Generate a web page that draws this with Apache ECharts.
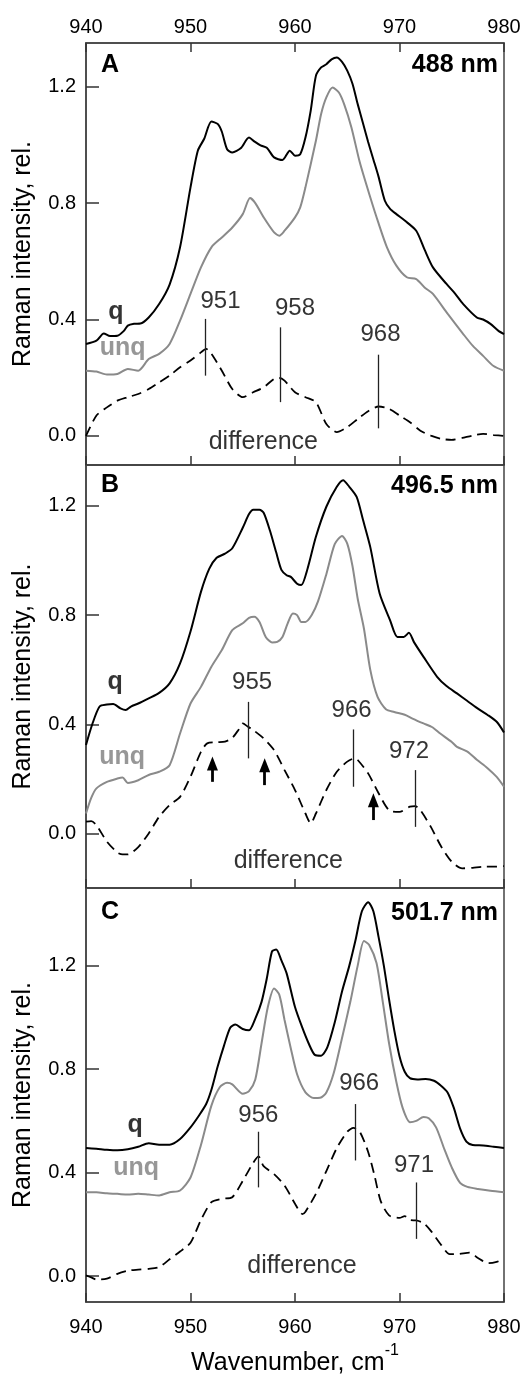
<!DOCTYPE html>
<html>
<head>
<meta charset="utf-8">
<script src="https://cdn.jsdelivr.net/npm/echarts@6/dist/echarts.min.js"></script>
<style>
  html, body { margin: 0; padding: 0; background: #fff; }
  #chart { width: 528px; height: 1377px; }
</style>
</head>
<body>
<div id="chart"></div>
<script>
// Raman spectra (q, unq) and their difference at three excitation wavelengths.
const FONT = "'Liberation Sans', Arial, sans-serif";

const xTicks = [940, 950, 960, 970, 980];
const yTicks = [0, 0.4, 0.8, 1.2];
const panelNames = ['A', 'B', 'C'];
const wavelengths = ['488 nm', '496.5 nm', '501.7 nm'];

// ---- Panel A (488 nm) ----
const qA = [[940,0.316],[941,0.327],[941.7,0.352],[942.3,0.343],[943,0.344],[943.6,0.36],[944,0.379],[944.6,0.385],[945.2,0.386],[946,0.407],[947,0.453],[948,0.52],[949,0.648],[950,0.854],[950.7,0.98],[951.3,1.02],[952,1.08],[952.6,1.072],[953,1.045],[953.5,0.985],[954,0.974],[954.8,0.988],[955.6,1.025],[956.1,1.012],[956.7,0.998],[957.3,0.99],[958,0.957],[958.8,0.948],[959.5,0.98],[960,0.963],[960.5,0.968],[961,1.025],[961.5,1.117],[962,1.237],[962.5,1.266],[963,1.277],[963.5,1.294],[964,1.3],[964.5,1.285],[965,1.255],[965.5,1.21],[966,1.14],[966.5,1.075],[967,1.01],[967.5,0.95],[968,0.89],[968.6,0.808],[969.1,0.78],[969.7,0.762],[970.5,0.74],[971.6,0.705],[972.4,0.64],[973.2,0.579],[974.5,0.522],[975.3,0.49],[976.1,0.453],[977.4,0.407],[978,0.4],[978.7,0.385],[979.5,0.36],[980,0.35]];
const unqA = [[940,0.224],[941,0.221],[942,0.211],[943,0.213],[944,0.23],[945,0.224],[946,0.264],[947,0.282],[948,0.316],[949,0.396],[950,0.488],[951,0.579],[952,0.648],[953,0.682],[954,0.716],[955,0.762],[955.7,0.817],[956.2,0.8],[957,0.751],[958,0.699],[958.5,0.688],[959,0.705],[960,0.751],[960.5,0.785],[961,0.854],[962,1.014],[962.5,1.106],[963,1.163],[963.6,1.197],[964.2,1.18],[964.7,1.14],[965.4,1.06],[966.2,0.94],[967.2,0.82],[968,0.73],[968.8,0.648],[969.7,0.585],[970.7,0.545],[971.6,0.539],[972.4,0.51],[973.2,0.488],[974.6,0.42],[976.1,0.35],[977,0.31],[978,0.275],[979,0.24],[980,0.224]];
const diffA = [[940,0.0],[941,0.07],[942,0.098],[943,0.121],[944,0.133],[945,0.144],[946,0.161],[947,0.184],[948,0.207],[949,0.236],[950,0.259],[951,0.287],[951.5,0.299],[952,0.282],[953,0.224],[954,0.161],[955,0.133],[956,0.15],[957,0.167],[958,0.196],[958.5,0.199],[959,0.19],[960,0.15],[961,0.133],[962,0.116],[963,0.041],[964,0.013],[965,0.03],[966,0.058],[967,0.085],[968,0.101],[969,0.093],[970,0.07],[971,0.047],[972,0.018],[973,0.001],[974,-0.01],[975,-0.014],[976,-0.007],[977,0.001],[978,0.007],[979,0.003],[980,0.0]];

// ---- Panel B (496.5 nm) ----
const qB = [[940,0.324],[940.6,0.4],[941.3,0.465],[942,0.472],[942.6,0.474],[943.3,0.458],[943.8,0.452],[944.3,0.465],[945,0.476],[946,0.495],[947,0.515],[948,0.55],[949,0.623],[950,0.74],[951,0.885],[951.8,0.97],[952.5,1.01],[953.3,1.025],[954,1.045],[955,1.12],[955.6,1.17],[956,1.186],[956.6,1.186],[957,1.175],[957.6,1.11],[958.2,1.03],[958.7,0.966],[959.2,0.946],[959.6,0.94],[960.2,0.915],[960.6,0.91],[961.2,0.97],[962,1.087],[963,1.197],[964,1.27],[964.6,1.294],[965.2,1.27],[965.9,1.233],[966.5,1.15],[967.2,1.05],[968.1,0.879],[969.1,0.781],[969.8,0.72],[970.4,0.72],[970.9,0.735],[971.4,0.7],[972.3,0.647],[973.6,0.574],[974.5,0.54],[975.5,0.513],[976.5,0.485],[977.4,0.46],[978.4,0.435],[979.3,0.409],[980,0.37]];
const unqB = [[940,0.073],[940.5,0.13],[941,0.165],[942,0.189],[943,0.201],[943.5,0.205],[944,0.185],[945,0.195],[946,0.214],[947,0.226],[948,0.25],[949,0.366],[950,0.476],[951,0.537],[952,0.611],[953,0.672],[954,0.745],[955,0.77],[955.6,0.79],[956.1,0.794],[956.6,0.775],[957.2,0.72],[957.8,0.7],[958.3,0.702],[958.8,0.72],[959.3,0.77],[959.8,0.806],[960.2,0.8],[960.6,0.775],[961,0.775],[961.6,0.8],[962.2,0.85],[963,0.95],[963.8,1.06],[964.5,1.09],[965,1.062],[965.5,0.98],[966,0.86],[966.6,0.75],[967.2,0.6],[967.9,0.5],[968.7,0.455],[969.5,0.445],[970.5,0.435],[971.3,0.42],[972.3,0.403],[973.1,0.39],[973.9,0.366],[975,0.335],[975.5,0.317],[976.5,0.3],[977.4,0.27],[978.4,0.24],[979.3,0.207],[980,0.171]];
const diffB = [[940,0.043],[940.5,0.045],[941,0.03],[942,-0.03],[943,-0.07],[943.5,-0.077],[944,-0.077],[945,-0.05],[946,0.0],[947,0.061],[948,0.104],[949,0.134],[950,0.208],[951,0.299],[951.6,0.33],[952.5,0.334],[953.3,0.336],[954,0.35],[954.6,0.38],[955,0.403],[955.5,0.391],[956,0.379],[957,0.348],[958,0.305],[959,0.232],[960,0.159],[961,0.073],[961.5,0.037],[962,0.073],[963,0.159],[964,0.226],[965,0.263],[965.7,0.275],[966,0.269],[967,0.22],[968,0.147],[969,0.085],[970,0.079],[971,0.098],[971.5,0.1],[972,0.085],[973,0.024],[974,-0.049],[975,-0.104],[976,-0.128],[977,-0.126],[978,-0.122],[979,-0.122],[980,-0.12]];

// ---- Panel C (501.7 nm) ----
const qC = [[940,0.495],[941,0.492],[942,0.488],[943,0.486],[944,0.49],[945,0.5],[946,0.514],[947,0.508],[948,0.508],[949,0.53],[950,0.575],[950.8,0.62],[951.5,0.665],[952,0.72],[952.6,0.81],[953.2,0.89],[953.8,0.96],[954.3,0.972],[955,0.955],[955.6,0.95],[956.2,0.995],[956.8,1.06],[957.3,1.15],[957.8,1.255],[958.2,1.262],[958.7,1.22],[959.2,1.17],[960,1.04],[960.7,0.96],[961.3,0.9],[961.9,0.855],[962.5,0.852],[963.1,0.885],[963.8,0.98],[964.5,1.1],[965.2,1.2],[965.8,1.3],[966.4,1.41],[967,1.445],[967.5,1.41],[968,1.31],[968.5,1.2],[969,1.07],[969.5,0.95],[970,0.85],[970.5,0.79],[971,0.765],[971.7,0.76],[972.5,0.762],[973.3,0.755],[974,0.735],[974.6,0.71],[975.2,0.65],[975.8,0.57],[976.4,0.52],[977,0.507],[978,0.505],[979,0.5],[980,0.495]];
const unqC = [[940,0.324],[941,0.324],[942,0.32],[943,0.318],[944,0.315],[945,0.318],[946,0.315],[947,0.312],[948,0.324],[949,0.331],[950,0.381],[951,0.507],[952,0.659],[952.8,0.73],[953.5,0.747],[954,0.741],[955,0.705],[955.6,0.715],[956.2,0.76],[956.8,0.9],[957.4,1.04],[958,1.112],[958.5,1.087],[959,0.99],[959.6,0.88],[960.2,0.78],[961,0.71],[961.8,0.688],[962.4,0.689],[963,0.71],[963.7,0.784],[964.5,0.92],[965.3,1.061],[966,1.2],[966.6,1.295],[967.1,1.28],[967.8,1.21],[968.4,1.06],[969,0.9],[969.7,0.75],[970.3,0.65],[971,0.595],[971.6,0.6],[972.3,0.615],[972.8,0.61],[973.5,0.575],[974.3,0.49],[975,0.42],[975.8,0.36],[976.5,0.345],[977.5,0.337],[978.7,0.33],[980,0.324]];
const diffC = [[940,0.003],[940.5,-0.005],[941,-0.013],[942,-0.01],[943,0.009],[944,0.021],[945,0.025],[946,0.028],[947,0.035],[948,0.065],[949,0.095],[950,0.129],[951,0.217],[952,0.286],[953,0.299],[954,0.305],[955,0.368],[956,0.438],[956.5,0.463],[957,0.425],[958,0.394],[959,0.35],[960,0.28],[960.7,0.24],[961,0.249],[962,0.318],[963,0.406],[964,0.495],[965,0.558],[965.6,0.573],[966.2,0.558],[967,0.48],[967.6,0.39],[968.2,0.29],[969,0.235],[970,0.225],[970.5,0.232],[971,0.217],[971.6,0.215],[972.3,0.205],[973,0.175],[974,0.12],[974.8,0.085],[975.5,0.085],[976.7,0.091],[977.5,0.07],[978.5,0.05],[979.3,0.055],[980,0.066]];

// Peak marker bars on the difference traces: [wavenumber, lower, upper]
const peakBarsA = [[951.45,0.207,0.402],[958.55,0.116,0.373],[967.95,0.026,0.279]];
const peakBarsB = [[955.5,0.275,0.482],[965.56,0.171,0.381],[971.46,0.024,0.232]];
const peakBarsC = [[956.48,0.343,0.558],[965.72,0.447,0.665],[971.6,0.144,0.362]];
// Peak labels: [wavenumber, intensity, text]
const peakLabelsA = [[952.87,0.461,'951'],[960.0,0.439,'958'],[968.18,0.35,'968']];
const peakLabelsB = [[955.89,0.555,'955'],[965.42,0.452,'966'],[970.91,0.299,'972']];
const peakLabelsC = [[956.49,0.62,'956'],[966.14,0.745,'966'],[971.39,0.427,'971']];
// Arrows in panel B: [wavenumber, tail, head]
const arrowsB = [[952.1,0.189,0.256],[957.1,0.177,0.25],[967.5,0.049,0.122]];
// Trace name tags: [wavenumber, intensity] for q, unq, difference
const tagsA = [[942.85,0.424],[943.5,0.303],[956.97,-0.022]];
const tagsB = [[942.8,0.554],[943.46,0.278],[959.36,-0.1]];
const tagsC = [[944.7,0.582],[944.8,0.416],[960.67,0.037]];

const yRanges = [[-0.1, 1.35], [-0.2, 1.35], [-0.1, 1.5]];

const panels = [
  { q: qA, unq: unqA, diff: diffA, bars: peakBarsA, labels: peakLabelsA, tags: tagsA, arrows: [] },
  { q: qB, unq: unqB, diff: diffB, bars: peakBarsB, labels: peakLabelsB, tags: tagsB, arrows: arrowsB },
  { q: qC, unq: unqC, diff: diffC, bars: peakBarsC, labels: peakLabelsC, tags: tagsC, arrows: [] }
];

const gridBox = [
  { left: 86, top: 43, width: 418, height: 422 },
  { left: 86, top: 465, width: 418, height: 423 },
  { left: 86, top: 888, width: 418, height: 423 }
];

const INK = '#000';
const GRAY = '#8a8a8a';
const FRAME = '#444';
const TICK = '#333';

const grid = gridBox.map(g => Object.assign({ show: true, borderColor: FRAME, borderWidth: 1.5, backgroundColor: 'transparent' }, g));

const frameLine = { show: true, onZero: false, lineStyle: { color: FRAME, width: 1.5 } };

function xAxisFor(gridIndex, position, showLabels, margin, extra) {
  return Object.assign({
    type: 'value', gridIndex, position, min: xTicks[0], max: xTicks[xTicks.length - 1], interval: 10,
    axisLine: frameLine,
    axisTick: { show: true, inside: true, length: 9, lineStyle: { color: TICK, width: 1.5 } },
    axisLabel: { show: showLabels, fontSize: 20, fontFamily: FONT, color: INK, margin: margin },
    splitLine: { show: false }
  }, extra || {});
}

const xAxis = [
  xAxisFor(0, 'top', true, 6),
  xAxisFor(0, 'bottom', false, 8),
  xAxisFor(1, 'bottom', false, 8),
  xAxisFor(2, 'bottom', true, 15, {
    name: '{a|Wavenumber, cm}{b|-1}',
    nameLocation: 'middle',
    nameGap: 41,
    nameTextStyle: {
      fontFamily: FONT, color: INK,
      rich: {
        a: { fontSize: 25, fontFamily: FONT, color: INK, lineHeight: 33, verticalAlign: 'bottom' },
        b: { fontSize: 16, fontFamily: FONT, color: INK, lineHeight: 16, verticalAlign: 'top' }
      }
    }
  })
];

const yAxis = yRanges.map((r, i) => ({
  type: 'value', gridIndex: i, min: r[0], max: r[1],
  name: 'Raman intensity, rel.', nameLocation: 'middle', nameGap: 50,
  nameTextStyle: { fontSize: 25, fontFamily: FONT, color: INK },
  axisLine: frameLine,
  axisTick: { show: true, inside: true, length: 13, customValues: yTicks, lineStyle: { color: TICK, width: 1.5 } },
  axisLabel: { show: true, customValues: yTicks, fontSize: 20, fontFamily: FONT, color: INK, margin: 10,
    formatter: v => Number(v).toFixed(1) },
  splitLine: { show: false }
}));

const plainLabel = { textBorderWidth: 0, textBorderColor: 'transparent', textShadowBlur: 0 };

const series = [];
panels.forEach((p, i) => {
  const axes = { xAxisIndex: i + 1, yAxisIndex: i };
  series.push(Object.assign({
    type: 'line', data: p.q, showSymbol: false, smooth: 0.25, silent: true,
    lineStyle: { color: INK, width: 2 },
    markLine: p.arrows.length ? {
      silent: true, symbol: ['none', 'triangle'], symbolSize: [11, 14],
      label: { show: false },
      lineStyle: { color: INK, width: 2.8, type: 'solid' },
      data: p.arrows.map(a => [{ coord: [a[0], a[1]] }, { coord: [a[0], a[2]] }])
    } : undefined
  }, axes));
  series.push(Object.assign({
    type: 'line', data: p.unq, showSymbol: false, smooth: 0.25, silent: true,
    lineStyle: { color: GRAY, width: 2 }
  }, axes));
  series.push(Object.assign({
    type: 'line', data: p.diff, showSymbol: false, smooth: 0.25, silent: true,
    lineStyle: { color: INK, width: 1.8, type: [10, 6] },
    markLine: {
      silent: true, symbol: 'none', label: { show: false },
      lineStyle: { color: '#222', width: 1.3, type: 'solid' },
      data: p.bars.map(b => [{ coord: [b[0], b[1]] }, { coord: [b[0], b[2]] }])
    }
  }, axes));
  // peak position labels
  series.push(Object.assign({
    type: 'scatter', symbolSize: 0, silent: true,
    data: p.labels.map(l => ({ value: [l[0], l[1]], name: l[2] })),
    label: Object.assign({ show: true, position: 'inside', formatter: d => d.name,
      fontSize: 24, fontFamily: FONT, color: INK }, plainLabel)
  }, axes));
  // trace tags
  const tagText = ['q', 'unq', 'difference'];
  const tagStyle = [
    { fontSize: 25, fontWeight: 'bold', color: INK },
    { fontSize: 25, fontWeight: 'bold', color: '#7d7d7d' },
    { fontSize: 25, fontWeight: 'normal', color: INK }
  ];
  series.push(Object.assign({
    type: 'scatter', symbolSize: 0, silent: true,
    data: p.tags.map((t, k) => ({
      value: t, name: tagText[k],
      label: Object.assign({ show: true, position: 'inside', formatter: d => d.name, fontFamily: FONT }, plainLabel, tagStyle[k])
    }))
  }, axes));
});

// Panel letters and excitation wavelengths
const letterY = [65, 485.5, 912.5];
const graphic = [];
panelNames.forEach((n, i) => {
  graphic.push({ type: 'text', x: 101, y: letterY[i],
    style: { text: n, font: 'bold 25px ' + FONT, fill: INK, align: 'left', verticalAlign: 'middle' } });
  graphic.push({ type: 'text', x: 498, y: letterY[i] + 0.5,
    style: { text: wavelengths[i], font: 'bold 25px ' + FONT, fill: INK, align: 'right', verticalAlign: 'middle' } });
});

const chart = echarts.init(document.getElementById('chart'), null, { renderer: 'canvas' });
chart.setOption({
  animation: false,
  backgroundColor: '#fff',
  textStyle: { fontFamily: FONT },
  grid, xAxis, yAxis, series, graphic
});
</script>
</body>
</html>
